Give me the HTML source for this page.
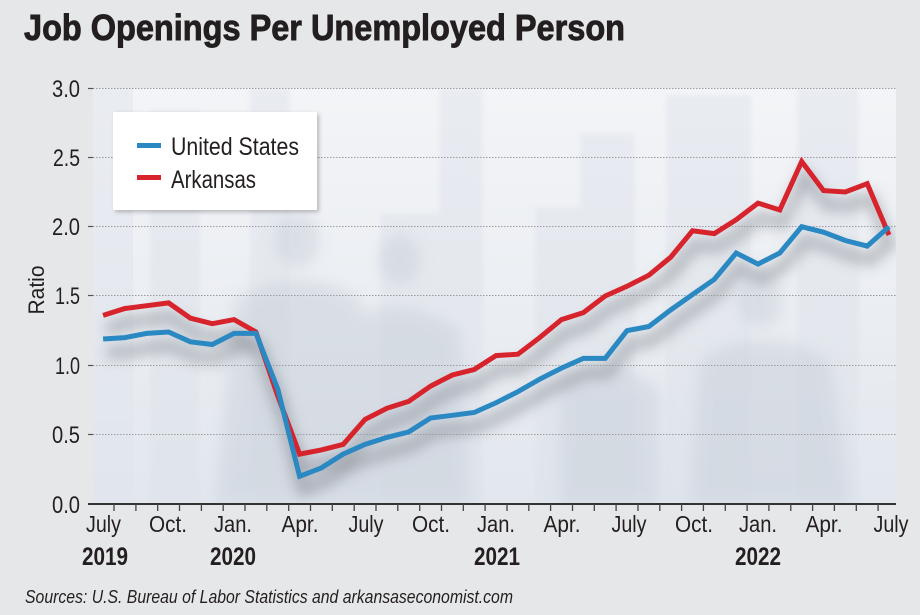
<!DOCTYPE html>
<html>
<head>
<meta charset="utf-8">
<style>
html,body{margin:0;padding:0;background:#e6e7e8;}
svg{display:block;}
text{font-family:"Liberation Sans",sans-serif;}
</style>
</head>
<body>
<svg width="920" height="615" viewBox="0 0 920 615" xmlns="http://www.w3.org/2000/svg">
<defs>
  <linearGradient id="bg" x1="0" y1="0" x2="0" y2="1">
    <stop offset="0" stop-color="#f3f4f7"/>
    <stop offset="0.45" stop-color="#eceff3"/>
    <stop offset="1" stop-color="#e2e7ee"/>
  </linearGradient>
  <filter id="blur3" x="-10%" y="-10%" width="120%" height="120%"><feGaussianBlur stdDeviation="2"/></filter>
  <filter id="blur8" x="-20%" y="-20%" width="140%" height="140%"><feGaussianBlur stdDeviation="7"/></filter>
  <filter id="blur7" x="-30%" y="-30%" width="160%" height="160%"><feGaussianBlur stdDeviation="7"/></filter>
  <filter id="lshadow" x="-10%" y="-10%" width="130%" height="130%">
    <feGaussianBlur in="SourceAlpha" stdDeviation="2"/>
    <feOffset dx="2" dy="2"/>
    <feComponentTransfer><feFuncA type="linear" slope="0.25"/></feComponentTransfer>
    <feMerge><feMergeNode/><feMergeNode in="SourceGraphic"/></feMerge>
  </filter>
  <clipPath id="plotclip"><rect x="93" y="88" width="803" height="416"/></clipPath>
</defs>

<!-- Title -->
<text x="24" y="40" font-size="36" font-weight="bold" fill="#231f20" stroke="#231f20" stroke-width="0.9" textLength="601" lengthAdjust="spacingAndGlyphs">Job Openings Per Unemployed Person</text>

<!-- Plot background -->
<g clip-path="url(#plotclip)">
  <rect x="93" y="88" width="803" height="416" fill="url(#bg)"/>
  <rect x="93" y="88" width="40" height="416" fill="#dfe4ec" opacity="0.5"/>
  <g fill="#dde2ea" opacity="0.45" filter="url(#blur3)">
    <rect x="439" y="88" width="44" height="416"/>
    <rect x="535" y="207" width="45" height="297"/>
    <rect x="580" y="133" width="55" height="371"/>
    <rect x="666" y="95" width="85" height="409"/>
    <rect x="797" y="88" width="62" height="416"/>
    <rect x="380" y="213" width="90" height="291"/>
    <rect x="150" y="110" width="50" height="394"/>
    <rect x="250" y="88" width="40" height="416"/>
  </g>
  <g fill="#c9d0da" opacity="0.5" filter="url(#blur8)">
    <ellipse cx="297" cy="240" rx="22" ry="28"/>
    <path d="M235 300 Q297 260 360 300 L380 504 L215 504 Z"/>
    <ellipse cx="400" cy="260" rx="20" ry="26"/>
    <path d="M350 320 Q400 290 460 330 L470 504 L340 504 Z"/>
    <ellipse cx="760" cy="300" rx="22" ry="28"/>
    <path d="M700 360 Q760 320 830 360 L850 504 L690 504 Z"/>
    <path d="M560 380 Q610 350 660 390 L660 504 L560 504 Z"/>
  </g>
  <!-- line shadows -->
  <g filter="url(#blur7)" opacity="0.5" transform="translate(3,14)">
    <polyline fill="none" stroke="#6a6f78" stroke-width="10" points="103.1,339.0 124.9,337.6 146.8,333.4 168.6,332.0 190.4,341.8 212.3,344.5 234.1,333.4 255.9,333.4 277.7,388.9 299.6,476.3 321.4,467.9 343.2,454.1 365.1,444.4 386.9,437.4 408.7,431.9 430.6,418.0 452.4,415.3 474.2,412.5 496.0,402.8 517.9,391.7 539.7,379.2 561.5,368.1 583.4,358.4 605.2,358.4 627.0,330.7 648.9,326.5 670.7,309.9 692.5,294.6 714.3,279.4 736.2,253.0 758.0,264.1 779.8,253.0 801.7,226.7 823.5,232.2 845.3,240.5 867.2,246.1 889.0,226.7"/>
    <polyline fill="none" stroke="#6a6f78" stroke-width="10" points="103.1,315.4 124.9,308.5 146.8,305.7 168.6,302.9 190.4,318.2 212.3,323.7 234.1,319.6 255.9,332.0 277.7,395.8 299.6,454.1 321.4,449.9 343.2,444.4 365.1,419.4 386.9,408.3 408.7,401.4 430.6,386.1 452.4,375.0 474.2,369.5 496.0,355.6 517.9,354.2 539.7,337.6 561.5,319.6 583.4,312.6 605.2,296.0 627.0,286.3 648.9,275.2 670.7,257.2 692.5,230.8 714.3,233.6 736.2,219.7 758.0,203.1 779.8,210.0 801.7,161.5 823.5,190.6 845.3,192.0 867.2,183.7 889.0,235.0"/>
  </g>
</g>

<!-- Gridlines -->
<g stroke="#9a9ca0" stroke-width="1" stroke-dasharray="1.5,1.5">
  <line x1="93" y1="88.5" x2="896" y2="88.5"/>
  <line x1="93" y1="157.5" x2="896" y2="157.5"/>
  <line x1="93" y1="226.5" x2="896" y2="226.5"/>
  <line x1="93" y1="295.5" x2="896" y2="295.5"/>
  <line x1="93" y1="365.5" x2="896" y2="365.5"/>
  <line x1="93" y1="434.5" x2="896" y2="434.5"/>
</g>
<g stroke="#555" stroke-width="1.2">
  <line x1="88" y1="88.5" x2="93" y2="88.5"/>
  <line x1="88" y1="157.5" x2="93" y2="157.5"/>
  <line x1="88" y1="226.5" x2="93" y2="226.5"/>
  <line x1="88" y1="295.5" x2="93" y2="295.5"/>
  <line x1="88" y1="365.5" x2="93" y2="365.5"/>
  <line x1="88" y1="434.5" x2="93" y2="434.5"/>
</g>

<!-- Series -->
<polyline fill="none" stroke="#d7232b" stroke-width="5" stroke-linejoin="miter" points="103.1,315.4 124.9,308.5 146.8,305.7 168.6,302.9 190.4,318.2 212.3,323.7 234.1,319.6 255.9,332.0 277.7,395.8 299.6,454.1 321.4,449.9 343.2,444.4 365.1,419.4 386.9,408.3 408.7,401.4 430.6,386.1 452.4,375.0 474.2,369.5 496.0,355.6 517.9,354.2 539.7,337.6 561.5,319.6 583.4,312.6 605.2,296.0 627.0,286.3 648.9,275.2 670.7,257.2 692.5,230.8 714.3,233.6 736.2,219.7 758.0,203.1 779.8,210.0 801.7,161.5 823.5,190.6 845.3,192.0 867.2,183.7 889.0,235.0"/>
<polyline fill="none" stroke="#2a88c2" stroke-width="5" stroke-linejoin="miter" points="103.1,339.0 124.9,337.6 146.8,333.4 168.6,332.0 190.4,341.8 212.3,344.5 234.1,333.4 255.9,333.4 277.7,388.9 299.6,476.3 321.4,467.9 343.2,454.1 365.1,444.4 386.9,437.4 408.7,431.9 430.6,418.0 452.4,415.3 474.2,412.5 496.0,402.8 517.9,391.7 539.7,379.2 561.5,368.1 583.4,358.4 605.2,358.4 627.0,330.7 648.9,326.5 670.7,309.9 692.5,294.6 714.3,279.4 736.2,253.0 758.0,264.1 779.8,253.0 801.7,226.7 823.5,232.2 845.3,240.5 867.2,246.1 889.0,226.7"/>

<!-- X axis -->
<line x1="88" y1="504" x2="896" y2="504" stroke="#333" stroke-width="2"/>
<g stroke="#444" stroke-width="1.3">
  <line x1="114.0" y1="504" x2="114.0" y2="511"/>
  <line x1="135.9" y1="504" x2="135.9" y2="511"/>
  <line x1="157.7" y1="504" x2="157.7" y2="511"/>
  <line x1="179.5" y1="504" x2="179.5" y2="511"/>
  <line x1="201.4" y1="504" x2="201.4" y2="511"/>
  <line x1="223.2" y1="504" x2="223.2" y2="511"/>
  <line x1="245.0" y1="504" x2="245.0" y2="511"/>
  <line x1="266.8" y1="504" x2="266.8" y2="511"/>
  <line x1="288.7" y1="504" x2="288.7" y2="511"/>
  <line x1="310.5" y1="504" x2="310.5" y2="511"/>
  <line x1="332.3" y1="504" x2="332.3" y2="511"/>
  <line x1="354.2" y1="504" x2="354.2" y2="511"/>
  <line x1="376.0" y1="504" x2="376.0" y2="511"/>
  <line x1="397.8" y1="504" x2="397.8" y2="511"/>
  <line x1="419.7" y1="504" x2="419.7" y2="511"/>
  <line x1="441.5" y1="504" x2="441.5" y2="511"/>
  <line x1="463.3" y1="504" x2="463.3" y2="511"/>
  <line x1="485.1" y1="504" x2="485.1" y2="511"/>
  <line x1="507.0" y1="504" x2="507.0" y2="511"/>
  <line x1="528.8" y1="504" x2="528.8" y2="511"/>
  <line x1="550.6" y1="504" x2="550.6" y2="511"/>
  <line x1="572.5" y1="504" x2="572.5" y2="511"/>
  <line x1="594.3" y1="504" x2="594.3" y2="511"/>
  <line x1="616.1" y1="504" x2="616.1" y2="511"/>
  <line x1="638.0" y1="504" x2="638.0" y2="511"/>
  <line x1="659.8" y1="504" x2="659.8" y2="511"/>
  <line x1="681.6" y1="504" x2="681.6" y2="511"/>
  <line x1="703.4" y1="504" x2="703.4" y2="511"/>
  <line x1="725.3" y1="504" x2="725.3" y2="511"/>
  <line x1="747.1" y1="504" x2="747.1" y2="511"/>
  <line x1="768.9" y1="504" x2="768.9" y2="511"/>
  <line x1="790.8" y1="504" x2="790.8" y2="511"/>
  <line x1="812.6" y1="504" x2="812.6" y2="511"/>
  <line x1="834.4" y1="504" x2="834.4" y2="511"/>
  <line x1="856.3" y1="504" x2="856.3" y2="511"/>
  <line x1="878.1" y1="504" x2="878.1" y2="511"/>
</g>

<!-- Y labels -->
<g font-size="24" fill="#231f20" text-anchor="end">
  <text x="80" y="97" textLength="28" lengthAdjust="spacingAndGlyphs">3.0</text>
  <text x="80" y="166" textLength="27" lengthAdjust="spacingAndGlyphs">2.5</text>
  <text x="80" y="235" textLength="28" lengthAdjust="spacingAndGlyphs">2.0</text>
  <text x="80" y="304" textLength="25" lengthAdjust="spacingAndGlyphs">1.5</text>
  <text x="80" y="374" textLength="25" lengthAdjust="spacingAndGlyphs">1.0</text>
  <text x="80" y="443" textLength="28" lengthAdjust="spacingAndGlyphs">0.5</text>
  <text x="80" y="513" textLength="28" lengthAdjust="spacingAndGlyphs">0.0</text>
</g>
<text transform="translate(44,290) rotate(-90)" font-size="22" fill="#231f20" text-anchor="middle" textLength="49" lengthAdjust="spacingAndGlyphs">Ratio</text>

<!-- X labels -->
<g font-size="23" fill="#231f20" text-anchor="middle">
  <text x="103.5" y="532" textLength="35" lengthAdjust="spacingAndGlyphs">July</text>
  <text x="168" y="532" textLength="38" lengthAdjust="spacingAndGlyphs">Oct.</text>
  <text x="233" y="532" textLength="38" lengthAdjust="spacingAndGlyphs">Jan.</text>
  <text x="300" y="532" textLength="37" lengthAdjust="spacingAndGlyphs">Apr.</text>
  <text x="366" y="532" textLength="35" lengthAdjust="spacingAndGlyphs">July</text>
  <text x="431" y="532" textLength="38" lengthAdjust="spacingAndGlyphs">Oct.</text>
  <text x="496" y="532" textLength="38" lengthAdjust="spacingAndGlyphs">Jan.</text>
  <text x="562" y="532" textLength="37" lengthAdjust="spacingAndGlyphs">Apr.</text>
  <text x="629" y="532" textLength="35" lengthAdjust="spacingAndGlyphs">July</text>
  <text x="694" y="532" textLength="38" lengthAdjust="spacingAndGlyphs">Oct.</text>
  <text x="758" y="532" textLength="38" lengthAdjust="spacingAndGlyphs">Jan.</text>
  <text x="824" y="532" textLength="37" lengthAdjust="spacingAndGlyphs">Apr.</text>
  <text x="891" y="532" textLength="35" lengthAdjust="spacingAndGlyphs">July</text>
</g>
<g font-size="25" font-weight="bold" fill="#231f20" text-anchor="middle">
  <text x="105" y="565" textLength="46" lengthAdjust="spacingAndGlyphs">2019</text>
  <text x="233" y="565" textLength="46" lengthAdjust="spacingAndGlyphs">2020</text>
  <text x="497" y="565" textLength="46" lengthAdjust="spacingAndGlyphs">2021</text>
  <text x="758" y="565" textLength="46" lengthAdjust="spacingAndGlyphs">2022</text>
</g>

<!-- Legend -->
<rect x="113" y="112" width="204" height="98" fill="#ffffff" filter="url(#lshadow)"/>
<rect x="137" y="143" width="24" height="5" fill="#2a88c2"/>
<rect x="137" y="175" width="24" height="5" fill="#d7232b"/>
<text x="171" y="155" font-size="25" fill="#231f20" textLength="128" lengthAdjust="spacingAndGlyphs">United States</text>
<text x="171" y="188" font-size="25" fill="#231f20" textLength="85" lengthAdjust="spacingAndGlyphs">Arkansas</text>

<!-- Source -->
<text x="25" y="603" font-size="18" font-style="italic" fill="#231f20" textLength="488" lengthAdjust="spacingAndGlyphs">Sources: U.S. Bureau of Labor Statistics and arkansaseconomist.com</text>
</svg>
</body>
</html>
